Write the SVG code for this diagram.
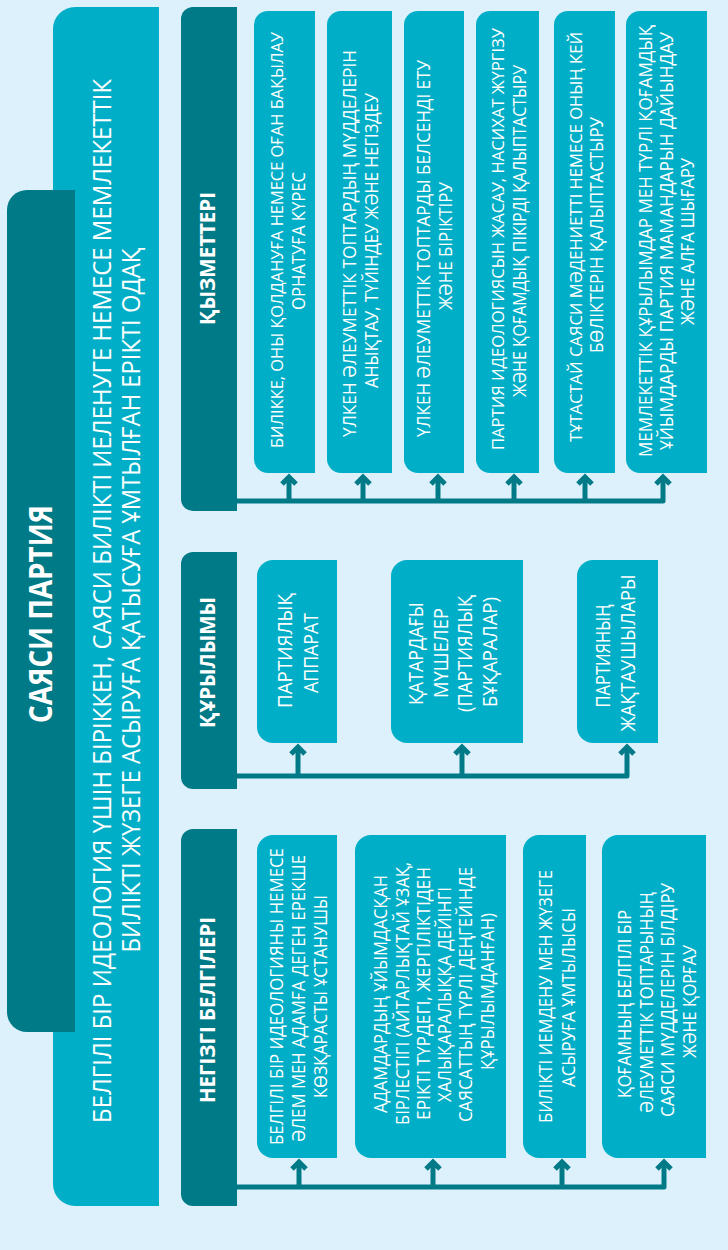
<svg xmlns="http://www.w3.org/2000/svg" width="728" height="1250" viewBox="0 0 728 1250">
<style>
.bg{fill:#DDF1FC}
.cy{fill:#00AFC7}
.dk{fill:#007A87}
.t{font-family:"Open Sans","DejaVu Sans",sans-serif;fill:#FFFFFF;text-anchor:middle}
.c{font-size:18px}
.cs{font-size:17px}
.c2{font-size:20px}
.sub{font-size:25px}
.ttl{font-size:33px;font-weight:700}
.hd{font-size:21px;font-weight:700}
.ln{fill:none;stroke:#007A87;stroke-width:5;stroke-linejoin:round}
</style>
<defs>
<marker id="ah" markerUnits="userSpaceOnUse" viewBox="0 0 20 20" markerWidth="20" markerHeight="20" refX="13" refY="10" orient="auto">
<path d="M6,3 L13,10 L6,17" fill="none" stroke="#007A87" stroke-width="5"/>
</marker>
</defs>
<rect class="bg" x="0" y="0" width="728" height="1250"/>

<g id="definition">
<path class="cy" d="M75,7 H159 V1206 H75 A22,22 0 0 1 53,1184 V29 A22,22 0 0 1 75,7 Z"/>
<text class="t sub" transform="rotate(-90)" x="-601" y="111" textLength="1044" lengthAdjust="spacingAndGlyphs">БЕЛГІЛІ БІР ИДЕОЛОГИЯ ҮШІН БІРІККЕН, САЯСИ БИЛІКТІ ИЕЛЕНУГЕ НЕМЕСЕ МЕМЛЕКЕТТІК</text>
<text class="t sub" transform="rotate(-90)" x="-600" y="140" textLength="705" lengthAdjust="spacingAndGlyphs">БИЛІКТІ ЖҮЗЕГЕ АСЫРУҒА ҚАТЫСУҒА ҰМТЫЛҒАН ЕРІКТІ ОДАҚ</text>
</g>

<g id="title">
<path class="dk" d="M27,190 H75 V1032 H27 A20,20 0 0 1 7,1012 V210 A20,20 0 0 1 27,190 Z"/>
<text class="t ttl" transform="rotate(-90)" x="-614" y="52" textLength="218" lengthAdjust="spacingAndGlyphs">САЯСИ ПАРТИЯ</text>
</g>

<g id="head-functions">
<path class="dk" d="M193,7 H237 V511 H193 A12,12 0 0 1 181,499 V19 A12,12 0 0 1 193,7 Z"/>
<text class="t hd" transform="rotate(-90)" x="-258.5" y="215" textLength="133" lengthAdjust="spacingAndGlyphs">ҚЫЗМЕТТЕРІ</text>
</g>
<g id="head-structure">
<path class="dk" d="M193,552 H237 V789 H193 A12,12 0 0 1 181,777 V564 A12,12 0 0 1 193,552 Z"/>
<text class="t hd" transform="rotate(-90)" x="-662.5" y="215" textLength="131" lengthAdjust="spacingAndGlyphs">ҚҰРЫЛЫМЫ</text>
</g>
<g id="head-features">
<path class="dk" d="M193,829 H237 V1206 H193 A12,12 0 0 1 181,1194 V841 A12,12 0 0 1 193,829 Z"/>
<text class="t hd" transform="rotate(-90)" x="-1010" y="215" textLength="186" lengthAdjust="spacingAndGlyphs">НЕГІЗГІ БЕЛГІЛЕРІ</text>
</g>

<g id="f1">
<path class="cy" d="M268,11 H315 V473 H268 A14,14 0 0 1 254,459 V25 A14,14 0 0 1 268,11 Z"/>
<text class="t cs" transform="rotate(-90)" x="-240" y="283" textLength="416" lengthAdjust="spacingAndGlyphs">БИЛІККЕ, ОНЫ ҚОЛДАНУҒА НЕМЕСЕ ОҒАН БАҚЫЛАУ</text>
<text class="t c" transform="rotate(-90)" x="-241" y="305" textLength="138" lengthAdjust="spacingAndGlyphs">ОРНАТУҒА КҮРЕС</text>
</g>
<g id="f2">
<path class="cy" d="M341,11 H392 V473 H341 A14,14 0 0 1 327,459 V25 A14,14 0 0 1 341,11 Z"/>
<text class="t c" transform="rotate(-90)" x="-243.5" y="356" textLength="387" lengthAdjust="spacingAndGlyphs">ҮЛКЕН ӘЛЕУМЕТТІК ТОПТАРДЫҢ МҮДДЕЛЕРІН</text>
<text class="t c" transform="rotate(-90)" x="-240.5" y="378" textLength="295" lengthAdjust="spacingAndGlyphs">АНЫҚТАУ, ТҮЙІНДЕУ ЖӘНЕ НЕГІЗДЕУ</text>
</g>
<g id="f3">
<path class="cy" d="M418,11 H464 V473 H418 A14,14 0 0 1 404,459 V25 A14,14 0 0 1 418,11 Z"/>
<text class="t c" transform="rotate(-90)" x="-248.5" y="430" textLength="377" lengthAdjust="spacingAndGlyphs">ҮЛКЕН ӘЛЕУМЕТТІК ТОПТАРДЫ БЕЛСЕНДІ ЕТУ</text>
<text class="t c" transform="rotate(-90)" x="-246" y="452" textLength="128" lengthAdjust="spacingAndGlyphs">ЖӘНЕ БІРІКТІРУ</text>
</g>
<g id="f4">
<path class="cy" d="M490,11 H539 V473 H490 A14,14 0 0 1 476,459 V25 A14,14 0 0 1 490,11 Z"/>
<text class="t cs" transform="rotate(-90)" x="-239" y="504" textLength="422" lengthAdjust="spacingAndGlyphs">ПАРТИЯ ИДЕОЛОГИЯСЫН ЖАСАУ, НАСИХАТ ЖҮРГІЗУ</text>
<text class="t c" transform="rotate(-90)" x="-231" y="526" textLength="332" lengthAdjust="spacingAndGlyphs">ЖӘНЕ ҚОҒАМДЫҚ ПІКІРДІ ҚАЛЫПТАСТЫРУ</text>
</g>
<g id="f5">
<path class="cy" d="M568,11 H615 V473 H568 A14,14 0 0 1 554,459 V25 A14,14 0 0 1 568,11 Z"/>
<text class="t cs" transform="rotate(-90)" x="-237" y="582" textLength="410" lengthAdjust="spacingAndGlyphs">ТҰТАСТАЙ САЯСИ МӘДЕНИЕТТІ НЕМЕСЕ ОНЫҢ КЕЙ</text>
<text class="t c" transform="rotate(-90)" x="-235" y="603" textLength="236" lengthAdjust="spacingAndGlyphs">БӨЛІКТЕРІН ҚАЛЫПТАСТЫРУ</text>
</g>
<g id="f6">
<path class="cy" d="M640,11 H707 V473 H640 A14,14 0 0 1 626,459 V25 A14,14 0 0 1 640,11 Z"/>
<text class="t c" transform="rotate(-90)" x="-241" y="652" textLength="432" lengthAdjust="spacingAndGlyphs">МЕМЛЕКЕТТІК ҚҰРЫЛЫМДАР МЕН ТҮРЛІ ҚОҒАМДЫҚ</text>
<text class="t c" transform="rotate(-90)" x="-241" y="673" textLength="418" lengthAdjust="spacingAndGlyphs">ҰЙЫМДАРДЫ ПАРТИЯ МАМАНДАРЫН ДАЙЫНДАУ</text>
<text class="t c" transform="rotate(-90)" x="-241.5" y="694" textLength="167" lengthAdjust="spacingAndGlyphs">ЖӘНЕ АЛҒА ШЫҒАРУ</text>
</g>

<g id="s1">
<path class="cy" d="M273,560 H337 V743 H273 A16,16 0 0 1 257,727 V576 A16,16 0 0 1 273,560 Z"/>
<text class="t c2" transform="rotate(-90)" x="-650.5" y="292" textLength="115" lengthAdjust="spacingAndGlyphs">ПАРТИЯЛЫҚ</text>
<text class="t c2" transform="rotate(-90)" x="-653" y="318" textLength="80" lengthAdjust="spacingAndGlyphs">АППАРАТ</text>
</g>
<g id="s2">
<path class="cy" d="M407,560 H523 V743 H407 A16,16 0 0 1 391,727 V576 A16,16 0 0 1 407,560 Z"/>
<text class="t c2" transform="rotate(-90)" x="-653.5" y="423" textLength="103" lengthAdjust="spacingAndGlyphs">ҚАТАРДАҒЫ</text>
<text class="t c2" transform="rotate(-90)" x="-653" y="448" textLength="90" lengthAdjust="spacingAndGlyphs">МҮШЕЛЕР</text>
<text class="t c2" transform="rotate(-90)" x="-653.5" y="472" textLength="117" lengthAdjust="spacingAndGlyphs">(ПАРТИЯЛЫҚ</text>
<text class="t c2" transform="rotate(-90)" x="-652" y="497" textLength="110" lengthAdjust="spacingAndGlyphs">БҰҚАРАЛАР)</text>
</g>
<g id="s3">
<path class="cy" d="M593,560 H658 V743 H593 A16,16 0 0 1 577,727 V576 A16,16 0 0 1 593,560 Z"/>
<text class="t c2" transform="rotate(-90)" x="-656" y="610" textLength="103" lengthAdjust="spacingAndGlyphs">ПАРТИЯНЫҢ</text>
<text class="t c2" transform="rotate(-90)" x="-653" y="635" textLength="157" lengthAdjust="spacingAndGlyphs">ЖАҚТАУШЫЛАРЫ</text>
</g>

<g id="n1">
<path class="cy" d="M273,835 H337 V1158 H273 A16,16 0 0 1 257,1142 V851 A16,16 0 0 1 273,835 Z"/>
<text class="t c" transform="rotate(-90)" x="-996.5" y="283" textLength="297" lengthAdjust="spacingAndGlyphs">БЕЛГІЛІ БІР ИДЕОЛОГИЯНЫ НЕМЕСЕ</text>
<text class="t c" transform="rotate(-90)" x="-998.5" y="305" textLength="287" lengthAdjust="spacingAndGlyphs">ӘЛЕМ МЕН АДАМҒА ДЕГЕН ЕРЕКШЕ</text>
<text class="t c" transform="rotate(-90)" x="-996.5" y="327" textLength="203" lengthAdjust="spacingAndGlyphs">КӨЗҚАРАСТЫ ҰСТАНУШЫ</text>
</g>
<g id="n2">
<path class="cy" d="M371,835 H506 V1158 H371 A16,16 0 0 1 355,1142 V851 A16,16 0 0 1 371,835 Z"/>
<text class="t c" transform="rotate(-90)" x="-994" y="387" textLength="238" lengthAdjust="spacingAndGlyphs">АДАМДАРДЫҢ ҰЙЫМДАСҚАН</text>
<text class="t c" transform="rotate(-90)" x="-993.5" y="409" textLength="263" lengthAdjust="spacingAndGlyphs">БІРЛЕСТІГІ (АЙТАРЛЫҚТАЙ ҰЗАҚ,</text>
<text class="t c" transform="rotate(-90)" x="-993.5" y="430" textLength="253" lengthAdjust="spacingAndGlyphs">ЕРІКТІ ТҮРДЕГІ, ЖЕРГІЛІКТІДЕН</text>
<text class="t c" transform="rotate(-90)" x="-994.5" y="451" textLength="215" lengthAdjust="spacingAndGlyphs">ХАЛЫҚАРАЛЫҚҚА ДЕЙІНГІ</text>
<text class="t c" transform="rotate(-90)" x="-994.5" y="472" textLength="255" lengthAdjust="spacingAndGlyphs">САЯСАТТЫҢ ТҮРЛІ ДЕҢГЕЙІНДЕ</text>
<text class="t c" transform="rotate(-90)" x="-991.5" y="494" textLength="157" lengthAdjust="spacingAndGlyphs">ҚҰРЫЛЫМДАНҒАН)</text>
</g>
<g id="n3">
<path class="cy" d="M539,835 H586 V1158 H539 A16,16 0 0 1 523,1142 V851 A16,16 0 0 1 539,835 Z"/>
<text class="t c" transform="rotate(-90)" x="-996.5" y="552" textLength="253" lengthAdjust="spacingAndGlyphs">БИЛІКТІ ИЕМДЕНУ МЕН ЖҮЗЕГЕ</text>
<text class="t c" transform="rotate(-90)" x="-997.5" y="575" textLength="179" lengthAdjust="spacingAndGlyphs">АСЫРУҒА ҰМТЫЛЫСЫ</text>
</g>
<g id="n4">
<path class="cy" d="M618,835 H706 V1158 H618 A16,16 0 0 1 602,1142 V851 A16,16 0 0 1 618,835 Z"/>
<text class="t c" transform="rotate(-90)" x="-1004" y="631" textLength="188" lengthAdjust="spacingAndGlyphs">ҚОҒАМНЫҢ БЕЛГІЛІ БІР</text>
<text class="t c" transform="rotate(-90)" x="-1002.5" y="653" textLength="221" lengthAdjust="spacingAndGlyphs">ӘЛЕУМЕТТІК ТОПТАРЫНЫҢ</text>
<text class="t c" transform="rotate(-90)" x="-1000" y="674" textLength="234" lengthAdjust="spacingAndGlyphs">САЯСИ МҮДДЕЛЕРІН БІЛДІРУ</text>
<text class="t c" transform="rotate(-90)" x="-1001.5" y="696" textLength="113" lengthAdjust="spacingAndGlyphs">ЖӘНЕ ҚОРҒАУ</text>
</g>

<g id="connectors">
<path class="ln" d="M236,501 H663 V477" marker-end="url(#ah)"/>
<path class="ln" d="M289,501 V477" marker-end="url(#ah)"/>
<path class="ln" d="M363,501 V477" marker-end="url(#ah)"/>
<path class="ln" d="M438,501 V477" marker-end="url(#ah)"/>
<path class="ln" d="M514,501 V477" marker-end="url(#ah)"/>
<path class="ln" d="M585,501 V477" marker-end="url(#ah)"/>
<path class="ln" d="M236,776 H627 V747" marker-end="url(#ah)"/>
<path class="ln" d="M298,776 V747" marker-end="url(#ah)"/>
<path class="ln" d="M462,776 V747" marker-end="url(#ah)"/>
<path class="ln" d="M236,1187 H664 V1162" marker-end="url(#ah)"/>
<path class="ln" d="M299,1187 V1162" marker-end="url(#ah)"/>
<path class="ln" d="M433,1187 V1162" marker-end="url(#ah)"/>
<path class="ln" d="M562,1187 V1162" marker-end="url(#ah)"/>
</g>
</svg>
